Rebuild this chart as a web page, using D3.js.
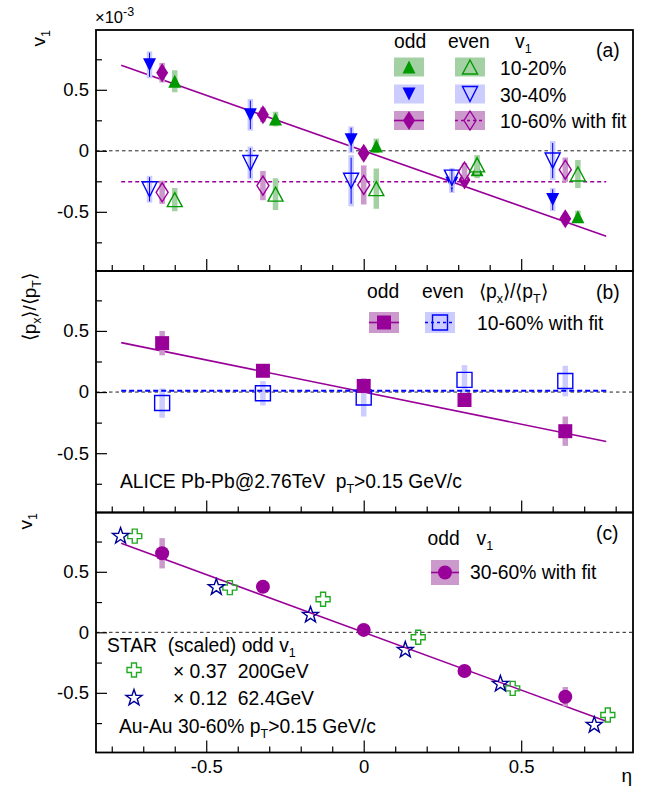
<!DOCTYPE html>
<html lang="en">
<head>
<meta charset="utf-8">
<title>v1 and px/pT versus eta</title>
<script src="https://d3js.org/d3.v7.min.js"></script>
<style>
  body { margin: 0; background: #fff; }
  text { font-family: "Liberation Sans", Arial, Helvetica, sans-serif; fill: #000; white-space: pre; }
</style>
</head>
<body>
<script>
var w = 646, h = 790;

// eta bin centres (ALICE)
var etaBins = [-0.64, -0.32, 0, 0.32, 0.64];

// panel (a): v1 (x 10^-3)
var odd1020 = [0.57, 0.26, 0.04, -0.155, -0.54];
var odd1020Err = [0.09, 0.06, 0.06, 0.07, 0.05];
var odd3040 = [0.705, 0.295, 0.09, -0.265, -0.40];
var odd3040Err = [0.11, 0.13, 0.11, 0.08, 0.095];
var odd1060 = [0.64, 0.295, -0.02, -0.24, -0.557];
var odd1060Err = [0.08, 0.06, 0.05, 0.05, 0.05];
var even1020 = [-0.40, -0.355, -0.31, -0.115, -0.19];
var even1020Err = [0.095, 0.13, 0.165, 0.08, 0.115];
var even3040 = [-0.315, -0.10, -0.245, -0.22, -0.08];
var even3040Err = [0.11, 0.135, 0.21, 0.08, 0.16];
var even1060 = [-0.34, -0.285, -0.28, -0.17, -0.155];
var even1060Err = [0.095, 0.12, 0.16, 0.07, 0.10];
var fitA = { odd: [0, -0.91], even: [-0.254, 0] };   // [intercept, slope]

// panel (b): <px>/<pT>
var pxOdd = [0.40, 0.174, 0.05, -0.065, -0.32];
var pxOddErr = [0.10, 0.04, 0.06, 0.04, 0.12];
var pxEven = [-0.09, -0.01, -0.045, 0.10, 0.09];
var pxEvenErr = [0.12, 0.10, 0.155, 0.12, 0.125];
var fitB = { odd: [0, -0.525], even: [0.01, 0] };

// panel (c): v1 30-60% and scaled STAR
var v1Odd3060 = [0.653, 0.377, 0.02, -0.32, -0.532];
var v1Odd3060Err = [0.125, 0.04, 0.04, 0.04, 0.08];
var fitC = [0, -0.955];
var star200Eta = [-0.727, -0.425, -0.129, 0.173, 0.473, 0.775];
var star200V1 = [0.795, 0.369, 0.273, -0.041, -0.463, -0.683];
var star62Eta = [-0.772, -0.468, -0.169, 0.132, 0.434, 0.732];
var star62V1 = [0.795, 0.372, 0.143, -0.146, -0.427, -0.766];

var fitRange = [-0.77, 0.77];
var xMajor = [-0.5, 0, 0.5];
var xMinor = [-0.8, -0.7, -0.6, -0.4, -0.3, -0.2, -0.1, 0.1, 0.2, 0.3, 0.4, 0.6, 0.7, 0.8];
var yMajor = [-0.5, 0, 0.5];
var yMinor = [-0.75, -0.25, 0.25, 0.75];

var green = "#009900", greenLight = "#a3d1a3";
var blue = "#0000ff", blueLight = "#ccccff";
var purple = "#990099", purpleLight = "#cc99cc";
var navy = "#000099", crossGreen = "#22aa22";

var svg = d3.select("body").append("svg")
    .attr("width", w).attr("height", h);

var x = d3.scaleLinear().domain([-0.85, 0.855]).range([96, 633]);

var panels = [
    { top: 30, bottom: 271, domain: [-0.985, 0.99] },
    { top: 271, bottom: 512.5, domain: [-0.985, 0.99] },
    { top: 512.5, bottom: 752.5, domain: [-0.993, 0.99] }
];
panels.forEach(function (p) {
    p.y = d3.scaleLinear().domain(p.domain).range([p.bottom, p.top]);
});

function fmt(d) { return d === 0 ? "0" : String(d); }

// text with sub/superscripts
function rich(t, parts) {
    var shift = 0;
    parts.forEach(function (p) {
        var s = p[1] === "sub" ? 5 : (p[1] === "sup" ? -7 : 0);
        t.append("tspan").text(p[0])
            .attr("dy", s - shift)
            .attr("font-size", p[1] ? "12.5px" : null);
        shift = s;
    });
    return t;
}

function label(xp, yp, parts, size, anchor) {
    var t = svg.append("text").attr("x", xp).attr("y", yp)
        .attr("font-size", (size || 19.3) + "px")
        .attr("text-anchor", anchor || "start");
    return rich(t, parts);
}

function markerPath(type) {
    var a, i, pts = [];
    switch (type) {
        case "triUp": return "M0,-6.5L6.5,6.5L-6.5,6.5Z";
        case "triDown": return "M0,6.5L6.5,-6.5L-6.5,-6.5Z";
        case "triUpOpen": return "M0,-7L7.5,7L-7.5,7Z";
        case "triDownOpen": return "M0,7.5L7.5,-7.5L-7.5,-7.5Z";
        case "diamond": return "M0,-9.5L6,0L0,9.5L-6,0Z";
        case "square": return "M-7,-7H7V7H-7Z";
        case "squareOpen": return "M-7.5,-7.5H7.5V7.5H-7.5Z";
        case "circle": return "M7,0A7,7 0 1,1 -7,0A7,7 0 1,1 7,0Z";
        case "cross": return "M-2.5,-7H2.5V-2.5H7V2.5H2.5V7H-2.5V2.5H-7V-2.5H-2.5Z";
        case "star":
            for (i = 0; i < 10; i++) {
                a = -Math.PI / 2 + i * Math.PI / 5;
                var r = i % 2 ? 3.4 : 8.5;
                pts.push([r * Math.cos(a), r * Math.sin(a)]);
            }
            return "M" + pts.map(function (q) { return q[0].toFixed(2) + "," + q[1].toFixed(2); }).join("L") + "Z";
    }
}

function drawMarker(g, type, color, open, px, py) {
    g.append("path")
        .attr("transform", "translate(" + px + "," + py + ")")
        .attr("d", markerPath(type))
        .attr("fill", open ? "none" : color)
        .attr("stroke", open ? color : "none")
        .attr("stroke-width", 1.4);
}

// frames, axes, zero lines
panels.forEach(function (p, i) {
    var g = svg.append("g");
    g.append("line").attr("x1", x.range()[0]).attr("x2", x.range()[1])
        .attr("y1", p.y(0)).attr("y2", p.y(0))
        .attr("stroke", "#222").attr("stroke-width", 1).attr("stroke-dasharray", "3.5,3");

    g.append("g").attr("transform", "translate(96,0)")
        .call(d3.axisLeft(p.y).tickValues(yMajor).tickFormat(fmt).tickSize(-11).tickSizeOuter(0).tickPadding(7));
    g.append("g").attr("transform", "translate(96,0)")
        .call(d3.axisLeft(p.y).tickValues(yMinor).tickFormat("").tickSize(-6).tickSizeOuter(0));

    g.append("g").attr("transform", "translate(0," + p.bottom + ")")
        .call(d3.axisBottom(x).tickValues(xMajor).tickFormat(i === 2 ? fmt : "").tickSize(-12).tickSizeOuter(0).tickPadding(7));
    g.append("g").attr("transform", "translate(0," + p.bottom + ")")
        .call(d3.axisBottom(x).tickValues(xMinor).tickFormat("").tickSize(-6).tickSizeOuter(0));

    g.selectAll(".domain").remove();
    g.selectAll(".tick line").attr("stroke", "#000").attr("stroke-width", 1.2);
    g.selectAll(".tick text").attr("font-size", "18.5px")
        .attr("font-family", "'Liberation Sans', Arial, sans-serif").attr("fill", "#000");

    g.append("rect").attr("x", 96).attr("y", p.top)
        .attr("width", 633 - 96).attr("height", p.bottom - p.top)
        .attr("fill", "none").attr("stroke", "#000").attr("stroke-width", 1.8);
});

function drawFit(p, par, color, dash, width) {
    var line = d3.line()
        .x(function (e) { return x(e); })
        .y(function (e) { return p.y(par[0] + par[1] * e); });
    svg.append("path").attr("d", line(fitRange))
        .attr("fill", "none").attr("stroke", color)
        .attr("stroke-width", width || 1.6)
        .attr("stroke-dasharray", dash || null);
}

function drawSeries(p, s) {
    var g = svg.append("g");
    var pts = s.eta.map(function (e, i) {
        return { e: e + (s.shift || 0), v: s.v[i], err: s.err ? s.err[i] : 0 };
    });
    g.selectAll("rect").data(pts.filter(function (d) { return d.err > 0; }))
        .enter().append("rect")
        .attr("x", function (d) { return x(d.e) - 2.75; })
        .attr("width", 5.5)
        .attr("y", function (d) { return p.y(d.v + d.err); })
        .attr("height", function (d) { return p.y(d.v - d.err) - p.y(d.v + d.err); })
        .attr("fill", s.light);
    if (s.stat) {
        g.selectAll("line").data(pts.filter(function (d) { return d.err > 0; }))
            .enter().append("line")
            .attr("x1", function (d) { return x(d.e); })
            .attr("x2", function (d) { return x(d.e); })
            .attr("y1", function (d) { return p.y(d.v + d.err * 0.9); })
            .attr("y2", function (d) { return p.y(d.v - d.err * 0.9); })
            .attr("stroke", s.color).attr("stroke-width", 1);
    }
    pts.forEach(function (d) {
        drawMarker(g, s.marker, s.color, s.open, x(d.e), p.y(d.v));
    });
}

// ---------- panel (a)
var pa = panels[0];
drawFit(pa, fitA.odd, purple);
drawFit(pa, fitA.even, purple, "4,3");
[
    { v: odd3040, err: odd3040Err, shift: -0.04, marker: "triDown", color: blue, light: blueLight, stat: true },
    { v: even3040, err: even3040Err, shift: -0.04, marker: "triDownOpen", color: blue, light: blueLight, open: true, stat: true },
    { v: odd1060, err: odd1060Err, shift: 0, marker: "diamond", color: purple, light: purpleLight },
    { v: even1060, err: even1060Err, shift: 0, marker: "diamond", color: purple, light: purpleLight, open: true },
    { v: odd1020, err: odd1020Err, shift: 0.04, marker: "triUp", color: green, light: greenLight },
    { v: even1020, err: even1020Err, shift: 0.04, marker: "triUpOpen", color: green, light: greenLight, open: true }
].forEach(function (s) { s.eta = etaBins; drawSeries(pa, s); });

// ---------- panel (b)
var pb = panels[1];
drawFit(pb, fitB.odd, purple);
drawSeries(pb, { eta: etaBins, v: pxEven, err: pxEvenErr, marker: "squareOpen", color: blue, light: blueLight, open: true });
drawFit(pb, fitB.even, blue, "5,3", 2);
drawSeries(pb, { eta: etaBins, v: pxOdd, err: pxOddErr, marker: "square", color: purple, light: purpleLight });

// ---------- panel (c)
var pc = panels[2];
drawFit(pc, fitC, purple);
drawSeries(pc, { eta: etaBins, v: v1Odd3060, err: v1Odd3060Err, marker: "circle", color: purple, light: purpleLight });
drawSeries(pc, { eta: star200Eta, v: star200V1, marker: "cross", color: crossGreen, open: true });
drawSeries(pc, { eta: star62Eta, v: star62V1, marker: "star", color: navy, open: true });

// ---------- legends
function legBox(x0, y0, wd, ht, light, type, color, open, lineDash) {
    var g = svg.append("g");
    g.append("rect").attr("x", x0).attr("y", y0).attr("width", wd).attr("height", ht).attr("fill", light);
    if (lineDash !== undefined) {
        g.append("line").attr("x1", x0).attr("x2", x0 + wd)
            .attr("y1", y0 + ht / 2).attr("y2", y0 + ht / 2)
            .attr("stroke", color).attr("stroke-width", 1.6)
            .attr("stroke-dasharray", lineDash || null);
    }
    drawMarker(g, type, color, open, x0 + wd / 2, y0 + ht / 2);
}

// (a)
label(394, 48, [["odd"]]);
label(448, 48, [["even"]]);
label(515, 48, [["v"], ["1", "sub"]]);
label(596, 57, [["(a)"]]);
legBox(394, 57.5, 30, 19, greenLight, "triUp", green, false);
legBox(455, 57.5, 30, 19, greenLight, "triUpOpen", green, true);
label(500, 75, [["10-20%"]]);
legBox(394, 84.5, 30, 19, blueLight, "triDown", blue, false);
legBox(455, 84.5, 30, 19, blueLight, "triDownOpen", blue, true);
label(500, 101.5, [["30-40%"]]);
legBox(394, 111, 30, 19, purpleLight, "diamond", purple, false, "");
legBox(455, 111, 30, 19, purpleLight, "diamond", purple, true, "3,3");
label(500, 128, [["10-60% with fit"]]);

// (b)
label(367, 298, [["odd"]]);
label(422, 298, [["even"]]);
label(479, 298, [["\u27E8p"], ["x", "sub"], ["\u27E9/\u27E8p"], ["T", "sub"], ["\u27E9"]]);
label(596, 299, [["(b)"]]);
legBox(369, 312, 30, 21, purpleLight, "square", purple, false, "");
legBox(425, 312, 30, 21, blueLight, "squareOpen", blue, true, "3,3");
label(477, 330, [["10-60% with fit"]]);
label(120, 488, [["ALICE Pb-Pb@2.76TeV  p"], ["T", "sub"], [">0.15 GeV/c"]]);

// (c)
label(427.5, 545, [["odd"]]);
label(476.5, 545, [["v"], ["1", "sub"]]);
label(596, 540, [["(c)"]]);
legBox(431, 560, 28, 25, purpleLight, "circle", purple, false, "");
label(470, 579, [["30-60% with fit"]]);
label(107, 652, [["STAR  (scaled) odd v"], ["1", "sub"]]);
drawMarker(svg, "cross", crossGreen, true, 134, 670);
label(173, 678, [["\u00D7 0.37  200GeV"]]);
drawMarker(svg, "star", navy, true, 134, 698);
label(173, 705, [["\u00D7 0.12  62.4GeV"]]);
label(119, 733, [["Au-Au 30-60% p"], ["T", "sub"], [">0.15 GeV/c"]]);

// axis titles
label(95, 23, [["\u00D710"], ["-3", "sup"]], 16.5);
label(632, 782, [["\u03B7"]], 19, "end");

function yTitle(xp, yp, parts) {
    var t = svg.append("text").attr("font-size", "19px").attr("text-anchor", "end")
        .attr("transform", "translate(" + xp + "," + yp + ") rotate(-90)");
    rich(t, parts);
}
yTitle(45, 30, [["v"], ["1", "sub"]]);
yTitle(36, 273, [["\u27E8p"], ["x", "sub"], ["\u27E9/\u27E8p"], ["T", "sub"], ["\u27E9"]]);
yTitle(32, 513, [["v"], ["1", "sub"]]);
</script>
</body>
</html>
